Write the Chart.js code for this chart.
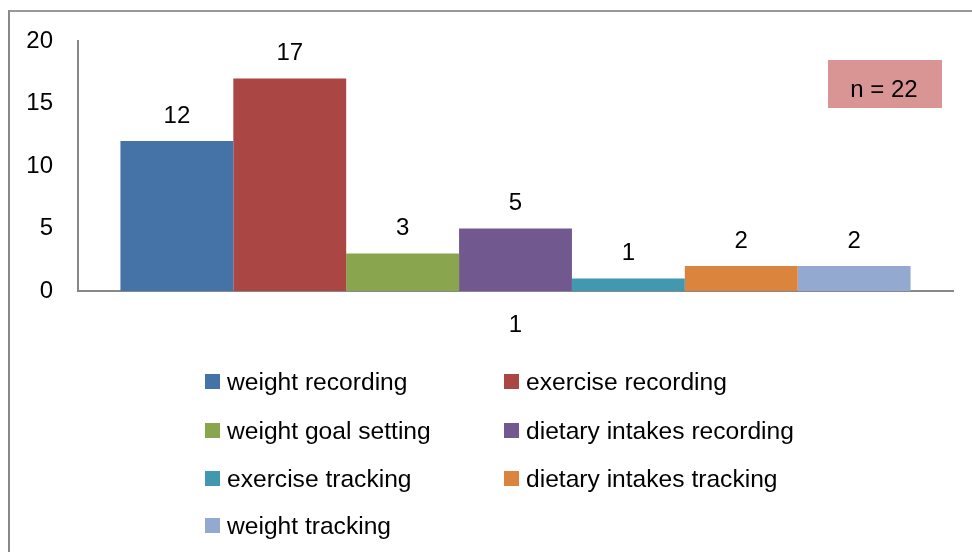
<!DOCTYPE html>
<html>
<head>
<meta charset="utf-8">
<script src="https://cdn.jsdelivr.net/npm/chart.js@4"></script>
<style>
  html, body { margin: 0; padding: 0; background: #fff; overflow: hidden; }
  #wrap { position: relative; width: 972px; height: 552px; }
  #frame {
    position: absolute; left: 8px; top: 10px; width: 2000px; height: 2000px;
    border-left: 2px solid #888; border-top: 2px solid #999; box-sizing: border-box;
  }
  canvas { position: absolute; left: 0; top: 0; }
</style>
</head>
<body>
<div id="wrap">
  <div id="frame"></div>
  <canvas id="chart" width="972" height="552"></canvas>
</div>
<script>
const categories = ["1"];
const seriesNames = [
  "weight recording",
  "exercise recording",
  "weight goal setting",
  "dietary intakes recording",
  "exercise tracking",
  "dietary intakes tracking",
  "weight tracking",
];
const seriesValues = [12, 17, 3, 5, 1, 2, 2];
const seriesColors = ["#4572a7", "#aa4643", "#89a54e", "#71588f", "#4198af", "#db843d", "#93a9cf"];
const yTicks = [0, 5, 10, 15, 20];
const noteText = "n = 22";

const FONT = "'Liberation Sans', Arial, sans-serif";
const FONT_SIZE = 24;
const LEGEND_SIZE = 24.6;

// value labels above each bar
const valueLabels = {
  id: "valueLabels",
  afterDatasetsDraw(chart) {
    const ctx = chart.ctx;
    ctx.save();
    ctx.font = `${FONT_SIZE}px ${FONT}`;
    ctx.fillStyle = "#000";
    ctx.textAlign = "center";
    ctx.textBaseline = "alphabetic";
    chart.data.datasets.forEach((ds, i) => {
      const meta = chart.getDatasetMeta(i);
      meta.data.forEach((bar, j) => {
        ctx.fillText(String(ds.data[j]), bar.x, bar.y - 18.5);
      });
    });
    ctx.restore();
  },
};

// "n = 22" note box
const noteBox = {
  id: "noteBox",
  afterDraw(chart) {
    const ctx = chart.ctx;
    ctx.save();
    ctx.fillStyle = "#d99594";
    ctx.fillRect(828, 60, 114, 48);
    ctx.font = `${FONT_SIZE}px ${FONT}`;
    ctx.fillStyle = "#000";
    ctx.textAlign = "center";
    ctx.textBaseline = "alphabetic";
    ctx.fillText(noteText, 884, 96.5);
    ctx.restore();
  },
};

// two-column legend under the plot, like the Excel one
const gridLegend = {
  id: "gridLegend",
  afterDraw(chart) {
    const ctx = chart.ctx;
    const colX = [205, 504];
    const rowY = [374, 423, 471, 518];
    ctx.save();
    ctx.font = `${LEGEND_SIZE}px ${FONT}`;
    ctx.textBaseline = "alphabetic";
    ctx.textAlign = "left";
    chart.data.datasets.forEach((ds, i) => {
      const x = colX[i % 2];
      const y = rowY[Math.floor(i / 2)];
      ctx.fillStyle = ds.backgroundColor;
      ctx.fillRect(x, y, 15, 15);
      ctx.fillStyle = "#000";
      ctx.fillText(ds.label, x + 22, y + 16);
    });
    ctx.restore();
  },
};

const datasets = seriesNames.map((name, i) => ({
  label: name,
  data: [seriesValues[i]],
  backgroundColor: seriesColors[i],
  borderWidth: 0,
  categoryPercentage: 0.903,
  barPercentage: 1.0,
}));

new Chart(document.getElementById("chart"), {
  type: "bar",
  data: { labels: categories, datasets },
  options: {
    responsive: false,
    animation: false,
    layout: { padding: { top: 41, right: 19, bottom: 0, left: 0 } },
    plugins: {
      legend: { display: false },
      tooltip: { enabled: false },
    },
    scales: {
      x: {
        grid: { display: false, drawTicks: false },
        border: { display: true, color: "#888", width: 2 },
        ticks: { color: "#000", font: { family: FONT, size: FONT_SIZE }, padding: 20 },
        afterFit(scale) { scale.height = 261; },
      },
      y: {
        min: 0,
        max: 20,
        afterBuildTicks(scale) { scale.ticks = yTicks.map((v) => ({ value: v })); },
        grid: { display: false, drawTicks: false },
        border: { display: true, color: "#888", width: 2 },
        ticks: { color: "#000", font: { family: FONT, size: FONT_SIZE }, padding: 25 },
        afterFit(scale) { scale.width = 78; },
      },
    },
  },
  plugins: [valueLabels, noteBox, gridLegend],
});
</script>
</body>
</html>
